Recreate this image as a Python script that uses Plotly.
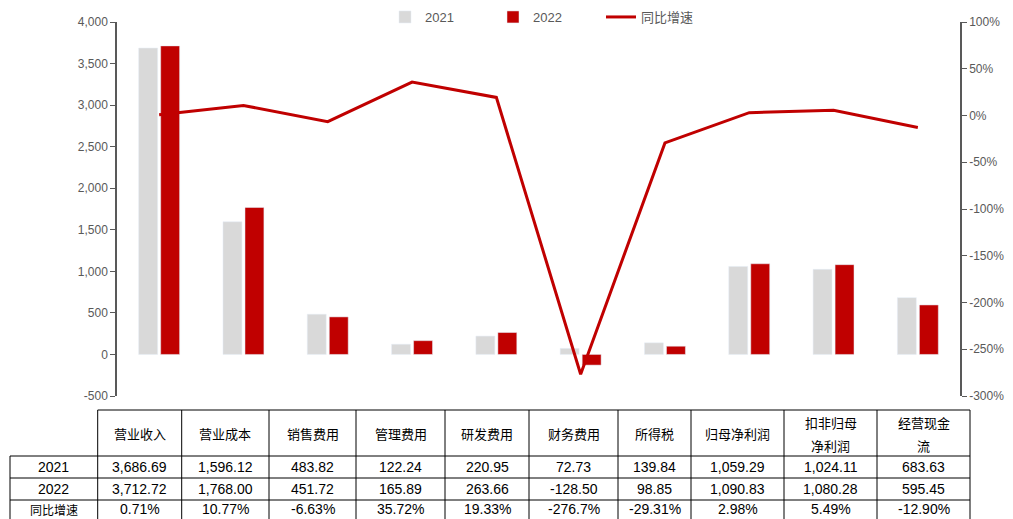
import plotly.graph_objects as go

categories = ["营业收入", "营业成本", "销售费用", "管理费用", "研发费用",
              "财务费用", "所得税", "归母净利润", "扣非归母<br>净利润", "经营现金<br>流"]
v2021 = [3686.69, 1596.12, 483.82, 122.24, 220.95, 72.73, 139.84, 1059.29, 1024.11, 683.63]
v2022 = [3712.72, 1768.00, 451.72, 165.89, 263.66, -128.50, 98.85, 1090.83, 1080.28, 595.45]
growth = [0.71, 10.77, -6.63, 35.72, 19.33, -276.7, -29.31, 2.98, 5.49, -12.90]
growth_labels = ["0.71%", "10.77%", "-6.63%", "35.72%", "19.33%", "-276.7%",
                 "-29.31%", "2.98%", "5.49%", "-12.90%"]
row_labels = ["2021", "2022", "同比增速"]
left_ticks = [-500, 0, 500, 1000, 1500, 2000, 2500, 3000, 3500, 4000]
right_ticks = [-300, -250, -200, -150, -100, -50, 0, 50, 100]

W, H = 1013, 519
GREY_BAR = "#D9D9D9"
RED = "#C00000"
AXIS_COL = "#595959"

x_idx = list(range(len(categories)))

fig = go.Figure()
fig.add_trace(go.Bar(x=x_idx, y=v2021, name="2021", marker_color=GREY_BAR))
fig.add_trace(go.Bar(x=x_idx, y=v2022, name="2022", marker_color=RED))
fig.add_trace(go.Scatter(x=x_idx, y=growth, name="同比增速", mode="lines",
                         line=dict(color=RED, width=3), yaxis="y2"))

def px(x):
    return x / W

def py(y):
    return 1 - y / H

plot_l, plot_r, plot_t, plot_b = 117, 960, 22, 396

fig.update_layout(
    width=W, height=H,
    margin=dict(l=0, r=0, t=0, b=0, autoexpand=False),
    paper_bgcolor="white", plot_bgcolor="white",
    barmode="group", bargap=0.478, bargroupgap=0.14,
    font=dict(family="Liberation Sans, Arial", size=12, color=AXIS_COL),
    showlegend=True,
    legend=dict(orientation="h", x=px(385), xanchor="left", y=py(17), yanchor="middle",
                font=dict(family="Liberation Sans, Noto Sans CJK SC", size=13, color=AXIS_COL),
                itemwidth=30, entrywidth=63, entrywidthmode="pixels",
                bgcolor="rgba(0,0,0,0)"),
    xaxis=dict(domain=[px(plot_l), px(plot_r)], range=[-0.5, len(categories) - 0.5],
               showticklabels=False, showline=False, showgrid=False, zeroline=False,
               ticks=""),
    yaxis=dict(domain=[py(plot_b), py(plot_t)], range=[-500, 4000],
               tickvals=left_ticks, ticktext=[f"{v:,d}" for v in left_ticks],
               showgrid=False, zeroline=False,
               showline=True, linecolor=AXIS_COL, linewidth=1.5,
               ticks="outside", ticklen=5, tickcolor=AXIS_COL,
               tickfont=dict(size=12, color=AXIS_COL)),
    yaxis2=dict(overlaying="y", side="right", anchor="x", range=[-300, 100],
                tickvals=right_ticks, ticktext=[f"{v}%" for v in right_ticks],
                showgrid=False, zeroline=False,
                showline=True, linecolor=AXIS_COL, linewidth=1.5,
                ticks="outside", ticklen=5, tickcolor=AXIS_COL,
                tickfont=dict(size=12, color=AXIS_COL)),
)

# ---- table below the chart ----
col_edges = [97.7, 181.7, 269, 356, 445, 529, 618, 691, 784, 877, 970]
label_left = 10
row_edges = [410, 456, 478, 500, 530]

shapes = []
line_style = dict(color="black", width=1)
shapes.append(dict(type="line", xref="paper", yref="paper",
                   x0=px(col_edges[0]), x1=px(col_edges[-1]),
                   y0=py(row_edges[0]), y1=py(row_edges[0]), line=line_style))
for yy in row_edges[1:4]:
    shapes.append(dict(type="line", xref="paper", yref="paper",
                       x0=px(label_left), x1=px(col_edges[-1]),
                       y0=py(yy), y1=py(yy), line=line_style))
for xx in col_edges:
    shapes.append(dict(type="line", xref="paper", yref="paper",
                       x0=px(xx), x1=px(xx),
                       y0=py(row_edges[0]), y1=py(row_edges[-1]), line=line_style))
shapes.append(dict(type="line", xref="paper", yref="paper",
                   x0=px(label_left), x1=px(label_left),
                   y0=py(row_edges[1]), y1=py(row_edges[-1]), line=line_style))

annotations = []
cjk_font = dict(family="Noto Sans CJK SC", size=13, color="black")
cjk_small = dict(family="Noto Sans CJK SC", size=12, color="black")
num_font = dict(family="Liberation Sans, Arial", size=14, color="black")
row_centers = [433, 467, 489, 509]

for i, cat in enumerate(categories):
    cx = (col_edges[i] + col_edges[i + 1]) / 2
    parts = cat.split("<br>")
    if len(parts) == 1:
        header_ys = [row_centers[0]]
    else:
        header_ys = [422, 445]
    for part, hy in zip(parts, header_ys):
        annotations.append(dict(text=part, x=px(cx), y=py(hy), xref="paper", yref="paper",
                                xanchor="center", yanchor="middle", showarrow=False, font=cjk_font))
    texts = [f"{v2021[i]:,.2f}", f"{v2022[i]:,.2f}", growth_labels[i]]
    for r, t in enumerate(texts):
        annotations.append(dict(text=t, x=px(cx), y=py(row_centers[r + 1]), xref="paper", yref="paper",
                                xanchor="center", yanchor="middle", showarrow=False, font=num_font))

lab_cx = (label_left + col_edges[0]) / 2
for r, lab in enumerate(row_labels):
    f = cjk_small if r == 2 else num_font
    annotations.append(dict(text=lab, x=px(lab_cx), y=py(row_centers[r + 1]), xref="paper", yref="paper",
                            xanchor="center", yanchor="middle", showarrow=False, font=f))

fig.update_layout(shapes=shapes, annotations=annotations)

fig.write_html("out.html")
